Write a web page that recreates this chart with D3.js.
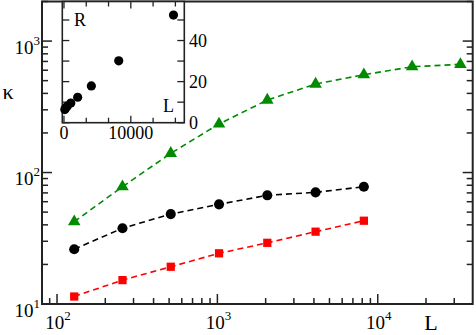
<!DOCTYPE html>
<html>
<head>
<meta charset="utf-8">
<script src="https://cdn.jsdelivr.net/npm/d3@7"></script>
<style>
  body { margin: 0; background: #fff; }
  svg { display: block; }
  text { font-family: "Liberation Serif", "DejaVu Serif", serif; fill: #000; }
</style>
</head>
<body>
<svg id="chart" width="476" height="335"></svg>
<script>
// data
var sizes = [128, 256, 512, 1024, 2048, 4096, 8192, 16384, 32768];
var kappaGreen = [42.3, 78, 140, 234, 356, 471, 555, 638, 665];
var kappaBlack = [26.1, 37.7, 48.3, 57.3, 67.1, 70.7, 78];
var kappaRed = [11.4, 15.2, 19.2, 24.3, 29.2, 35.5, 43];
var insetSizes = [128, 256, 512, 1024, 2048, 4096, 8192, 16384];
var insetR = [6.4, 7.2, 8.1, 9.6, 12.4, 17.9, 30.1, 52.4];
var xMajors = [2, 3, 4];       // exponents for 10^k labels
var yMajors = [1, 2, 3];
var insetXTicks = [0, 10000];
var insetYTicks = [0, 20, 40];

var svg = d3.select("#chart");
var frameColor = "#222";

var x = d3.scaleLog().domain([80.6, 39100]).range([42, 472.7]);
var y = d3.scaleLog().domain([10, 2000]).range([304, 1.5]);

// ticks on the main plot (pointing inward)
var xt = x.ticks().filter(function (d) { return d >= 80.6 && d <= 39100; });
var yt = y.ticks();
function isMajor(v) {
    var l = Math.log10(v);
    return Math.abs(l - Math.round(l)) < 1e-6;
}
var g = svg.append("g");
xt.forEach(function (v) {
    var len = isMajor(v) ? 10 : 6;
    g.append("line").attr("x1", x(v)).attr("x2", x(v))
        .attr("y1", 304).attr("y2", 304 - len)
        .attr("stroke", frameColor).attr("stroke-width", 1.5);
});
yt.forEach(function (v) {
    var len = isMajor(v) ? 10 : 6;
    g.append("line").attr("x1", 42).attr("x2", 42 + len)
        .attr("y1", y(v)).attr("y2", y(v))
        .attr("stroke", frameColor).attr("stroke-width", 1.5);
    g.append("line").attr("x1", 472.7).attr("x2", 472.7 - len)
        .attr("y1", y(v)).attr("y2", y(v))
        .attr("stroke", frameColor).attr("stroke-width", 1.5);
});

// main frame
svg.append("rect").attr("x", 42).attr("y", 1.5)
    .attr("width", 430.7).attr("height", 302.5)
    .attr("fill", "none").attr("stroke", frameColor).attr("stroke-width", 2);

// tick labels 10^k
function powLabel(sel, k) {
    sel.append("tspan").text("10");
    sel.append("tspan").attr("dy", -9).attr("font-size", 13).text(k);
}
xMajors.forEach(function (k) {
    var t = svg.append("text").attr("x", x(Math.pow(10, k)) + 1).attr("y", 329)
        .attr("text-anchor", "middle").attr("font-size", 19);
    powLabel(t, k);
});
yMajors.forEach(function (k) {
    var t = svg.append("text").attr("x", 40).attr("y", y(Math.pow(10, k)) + 12.5)
        .attr("text-anchor", "end").attr("font-size", 19);
    powLabel(t, k);
});

// axis labels
svg.append("text").attr("x", 8).attr("y", 99).attr("text-anchor", "middle")
    .attr("font-size", 22).text("κ");
svg.append("text").attr("x", 431).attr("y", 330).attr("text-anchor", "middle")
    .attr("font-size", 22).text("L");

// series
var line = d3.line().x(function (d) { return x(d[0]); }).y(function (d) { return y(d[1]); });
function series(vals, color, shape) {
    var pts = vals.map(function (v, i) { return [sizes[i], v]; });
    svg.append("path").attr("d", line(pts)).attr("fill", "none")
        .attr("stroke", color).attr("stroke-width", 1.6)
        .attr("stroke-dasharray", "6,4");
    var sym = d3.symbol().type(shape).size(shape === d3.symbolCircle ? 80 : 68);
    svg.selectAll(null).data(pts).enter().append("path")
        .attr("d", sym)
        .attr("transform", function (d) { return "translate(" + x(d[0]) + "," + y(d[1]) + ")"; })
        .attr("fill", color);
}
series(kappaGreen, "#008b00", d3.symbolTriangle);
series(kappaBlack, "#000", d3.symbolCircle);
series(kappaRed, "#ff0000", d3.symbolSquare);

// inset
var ix = d3.scaleLinear().domain([-250, 18000]).range([62.3, 184.3]);
var iy = d3.scaleLinear().domain([0, 59]).range([122.7, 1.5]);
svg.append("rect").attr("x", 62.3).attr("y", 1.5).attr("width", 122).attr("height", 121.2)
    .attr("fill", "#fff");

var ig = svg.append("g");
[0, 10000 / 3, 20000 / 3, 10000, 40000 / 3, 50000 / 3].forEach(function (v, i) {
    var major = (i % 3 === 0);
    ig.append("line").attr("x1", ix(v)).attr("x2", ix(v))
        .attr("y1", 1.5).attr("y2", 1.5 + (major ? 7 : 5))
        .attr("stroke", frameColor).attr("stroke-width", 1.3);
    ig.append("line").attr("x1", ix(v)).attr("x2", ix(v))
        .attr("y1", 122.7).attr("y2", 122.7 - (major ? 7 : 5))
        .attr("stroke", frameColor).attr("stroke-width", 1.3);
});
[0, 10, 20, 30, 40, 50].forEach(function (v) {
    ig.append("line").attr("x1", 62.3).attr("x2", 62.3 + 7)
        .attr("y1", iy(v)).attr("y2", iy(v))
        .attr("stroke", frameColor).attr("stroke-width", 1.3);
    ig.append("line").attr("x1", 184.3).attr("x2", 184.3 - 7)
        .attr("y1", iy(v)).attr("y2", iy(v))
        .attr("stroke", frameColor).attr("stroke-width", 1.3);
});
svg.append("rect").attr("x", 62.3).attr("y", 1.5).attr("width", 122).attr("height", 121.2)
    .attr("fill", "none").attr("stroke", frameColor).attr("stroke-width", 1.6);

insetXTicks.forEach(function (v) {
    svg.append("text").attr("x", ix(v)).attr("y", 138.5).attr("text-anchor", "middle")
        .attr("font-size", 18).text(v);
});
insetYTicks.forEach(function (v) {
    svg.append("text").attr("x", 189).attr("y", iy(v) + 6).attr("text-anchor", "start")
        .attr("font-size", 18).text(v);
});
svg.append("text").attr("x", 74).attr("y", 26).attr("font-size", 18).text("R");
svg.append("text").attr("x", 163).attr("y", 112).attr("font-size", 18).text("L");

svg.selectAll(null).data(insetSizes).enter().append("circle")
    .attr("cx", function (d) { return ix(d); })
    .attr("cy", function (d, i) { return iy(insetR[i]); })
    .attr("r", 4.6).attr("fill", "#000");
</script>
</body>
</html>
